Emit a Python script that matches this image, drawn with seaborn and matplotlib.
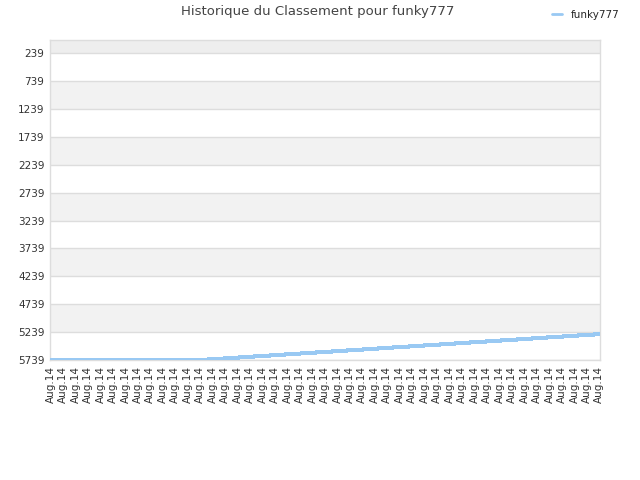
import numpy as np
import pandas as pd
import seaborn as sns
import matplotlib.pyplot as plt
from matplotlib.lines import Line2D

player = 'funky777'
title = 'Historique du Classement pour funky777'

# one label per point, all the same day
dates = ['Aug.14'] * 45

ranks = [5739] * 12 + [
    5739, 5725, 5710, 5696, 5681, 5667, 5652, 5638, 5623, 5609, 5594,
    5580, 5565, 5551, 5536, 5522, 5507, 5493, 5478, 5464, 5449, 5435,
    5420, 5406, 5391, 5377, 5362, 5348, 5333, 5319, 5304, 5290, 5275,
]

ytick_values = [239, 739, 1239, 1739, 2239, 2739, 3239, 3739, 4239, 4739, 5239, 5739]

line_color = '#99c9f3'
grid_color = '#dddddd'

df = pd.DataFrame({'idx': np.arange(len(ranks)), 'rank': ranks})

sns.set_style('white')
plt.rcParams['font.family'] = ['DejaVu Sans']

fig = plt.figure(figsize=(6.4, 4.8), dpi=100, facecolor='white')
ax = fig.add_axes([50 / 640, 1 - 360 / 480, 550 / 640, 320 / 480])

# alternating bands between ticks
edges = [0] + ytick_values
for i in range(len(edges) - 1):
    lo, hi = edges[i], edges[i + 1]
    n_from_bottom = len(edges) - 2 - i
    if i == 0:
        ax.axhspan(lo, hi, color='#eeeeee', zorder=0, lw=0)
    elif n_from_bottom % 2 == 1:
        ax.axhspan(lo, hi, color='#f2f2f2', zorder=0, lw=0)

for v in ytick_values:
    ax.axhline(v, color=grid_color, lw=1, zorder=1)

sns.lineplot(data=df, x='idx', y='rank', ax=ax, color=line_color,
             linewidth=2.2, zorder=3, legend=False, antialiased=False)

ax.set_ylim(5739, 0)
ax.set_xlim(-0.05, len(ranks) - 1 + 0.05)
ax.set_yticks(ytick_values)
ax.set_yticklabels([str(v) for v in ytick_values])
ax.set_xticks(df['idx'])
ax.set_xticklabels(dates, rotation=90)
ax.tick_params(axis='both', length=0, labelsize=7.5, colors='#333333', pad=4)
ax.set_xlabel('')
ax.set_ylabel('')

for s in ax.spines.values():
    s.set_color(grid_color)
    s.set_linewidth(1)

fig.text(318 / 640, 1 - 12 / 480, title, ha='center', va='center',
         fontsize=9.5, color='#444444')

handle = Line2D([], [], color=line_color, lw=2)
fig.legend([handle], [player], loc='center left', bbox_to_anchor=(543 / 640, 1 - 15 / 480),
           frameon=False, fontsize=7.5, handlelength=0.9, handletextpad=0.9,
           borderpad=0.4)

fig.savefig('out.png', dpi=100, facecolor='white')
